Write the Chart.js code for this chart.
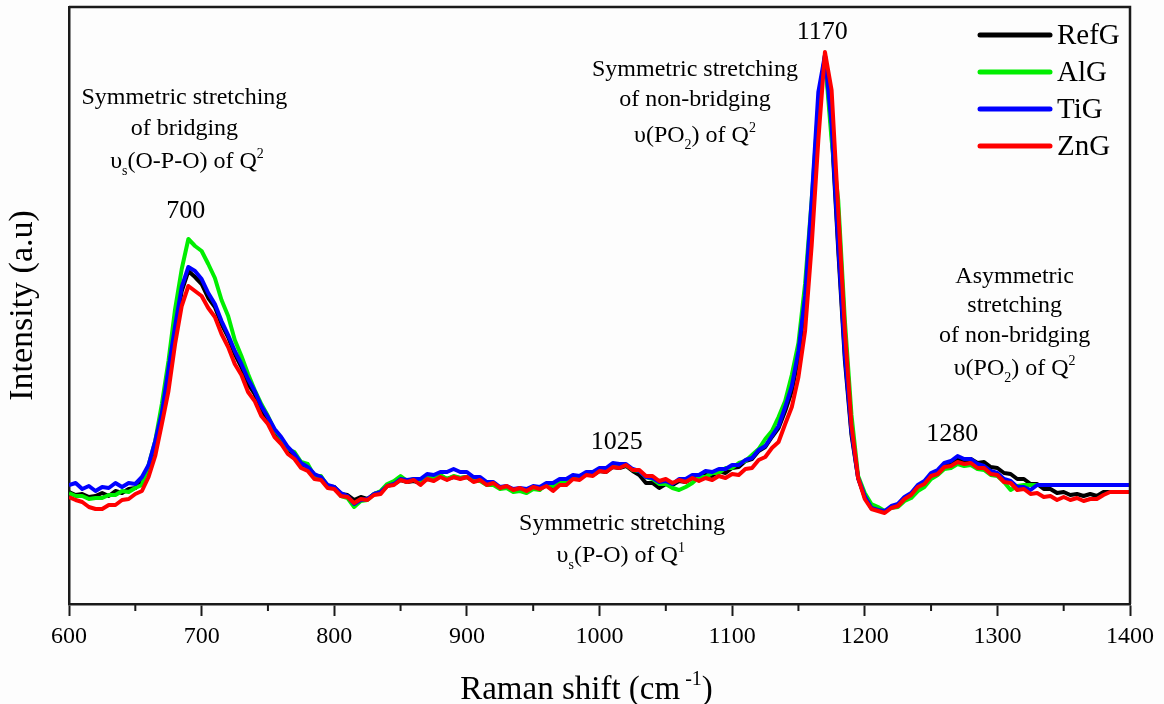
<!DOCTYPE html>
<html>
<head>
<meta charset="utf-8">
<script src="https://cdn.jsdelivr.net/npm/chart.js@4.4.1/dist/chart.umd.min.js"></script>
<style>
  html, body { margin: 0; padding: 0; background: #fff; }
  #myCanvas { display: block; }
</style>
</head>
<body>
<canvas id="myCanvas" width="1164" height="704"></canvas>
<script>
// Raman shift (cm-1), shared by every spectrum
const ramanShift = [
  600, 605, 610, 615, 620, 625, 630, 635, 640, 645, 650, 655, 660, 665, 670, 675, 680, 685, 690, 695,
  700, 705, 710, 715, 720, 725, 730, 735, 740, 745, 750, 755, 760, 765, 770, 775, 780, 785, 790, 795,
  800, 805, 810, 815, 820, 825, 830, 835, 840, 845, 850, 855, 860, 865, 870, 875, 880, 885, 890, 895,
  900, 905, 910, 915, 920, 925, 930, 935, 940, 945, 950, 955, 960, 965, 970, 975, 980, 985, 990, 995,
  1000, 1005, 1010, 1015, 1020, 1025, 1030, 1035, 1040, 1045, 1050, 1055, 1060, 1065, 1070, 1075, 1080, 1085, 1090, 1095,
  1100, 1105, 1110, 1115, 1120, 1125, 1130, 1135, 1140, 1145, 1150, 1155, 1160, 1165, 1170, 1175, 1180, 1185, 1190, 1195,
  1200, 1205, 1210, 1215, 1220, 1225, 1230, 1235, 1240, 1245, 1250, 1255, 1260, 1265, 1270, 1275, 1280, 1285, 1290, 1295,
  1300, 1305, 1310, 1315, 1320, 1325, 1330, 1335, 1340, 1345, 1350, 1355, 1360, 1365, 1370, 1375, 1380, 1385, 1390, 1395,
  1400
];

// intensities (a.u.)
const refG = [
  112, 109, 110, 107, 108, 111, 108, 113, 111, 115, 116, 123, 135, 160, 188, 230, 273, 313, 333, 327,
  320, 306, 297, 280, 267, 250, 237, 220, 210, 194, 185, 172, 165, 154, 149, 140, 137, 128, 126, 118,
  117, 110, 109, 104, 107, 105, 110, 112, 119, 120, 124, 122, 123, 121, 125, 124, 128, 125, 127, 126,
  127, 123, 124, 120, 121, 116, 117, 113, 115, 113, 117, 115, 119, 117, 122, 121, 126, 125, 130, 129,
  133, 132, 137, 136, 138, 133, 129, 121, 121, 116, 120, 119, 123, 122, 126, 125, 129, 128, 133, 131,
  136, 137, 143, 145, 153, 157, 167, 176, 193, 213, 247, 303, 394, 494, 549, 474, 354, 244, 169, 126,
  107, 96, 94, 92, 97, 99, 106, 110, 118, 122, 130, 133, 139, 140, 144, 143, 145, 141, 142, 137,
  136, 131, 130, 125, 125, 120, 120, 115, 115, 111, 112, 109, 110, 108, 110, 108, 112, 112, 112, 112,
  112
];
const alG = [
  111, 108, 108, 105, 106, 106, 109, 109, 113, 112, 116, 119, 139, 163, 200, 243, 295, 335, 365, 358,
  353, 340, 326, 304, 288, 264, 248, 230, 214, 200, 188, 174, 166, 155, 152, 142, 140, 128, 128, 118,
  116, 108, 106, 97, 103, 104, 110, 113, 120, 123, 128, 123, 125, 121, 127, 126, 129, 125, 128, 126,
  127, 123, 123, 119, 119, 115, 116, 112, 113, 111, 115, 114, 120, 118, 122, 122, 128, 128, 131, 131,
  135, 135, 139, 138, 139, 134, 133, 127, 125, 120, 120, 116, 114, 117, 121, 127, 127, 131, 131, 136,
  136, 141, 143, 149, 155, 165, 173, 187, 203, 229, 261, 320, 404, 499, 546, 464, 404, 284, 189, 128,
  111, 100, 97, 93, 96, 97, 103, 106, 113, 117, 125, 129, 135, 136, 140, 138, 139, 135, 134, 129,
  128, 122, 114, 118, 119, 119, 119, 119, 119, 119, 119, 119, 119, 119, 119, 119, 119, 119, 119, 119,
  119
];
const tiG = [
  119, 121, 115, 118, 113, 117, 116, 121, 117, 121, 120, 127, 139, 163, 191, 235, 278, 317, 337, 333,
  325, 311, 300, 283, 269, 253, 240, 225, 213, 198, 187, 175, 167, 157, 150, 141, 137, 130, 127, 119,
  117, 111, 108, 100, 104, 105, 110, 112, 118, 120, 125, 124, 125, 125, 130, 129, 132, 132, 135, 132,
  132, 127, 127, 122, 122, 117, 118, 115, 116, 115, 118, 117, 121, 121, 125, 125, 129, 128, 132, 132,
  136, 136, 141, 140, 140, 135, 133, 127, 126, 122, 123, 120, 125, 125, 129, 129, 133, 132, 135, 135,
  139, 139, 144, 146, 154, 158, 168, 178, 197, 218, 253, 308, 404, 512, 549, 479, 359, 249, 172, 126,
  108, 96, 94, 93, 98, 100, 107, 111, 119, 123, 131, 134, 141, 143, 148, 145, 145, 140, 138, 133,
  131, 125, 123, 117, 117, 114, 119, 119, 119, 119, 119, 119, 119, 119, 119, 119, 119, 119, 119, 119,
  119
];
const znG = [
  107, 104, 102, 97, 95, 95, 99, 99, 104, 105, 110, 113, 127, 148, 180, 213, 260, 298, 318, 313,
  308, 296, 287, 270, 257, 240, 229, 212, 203, 188, 180, 167, 160, 150, 145, 136, 133, 125, 124, 116,
  115, 108, 107, 101, 105, 104, 109, 110, 118, 119, 124, 122, 124, 119, 125, 123, 127, 124, 127, 125,
  127, 122, 124, 119, 121, 116, 118, 114, 116, 113, 117, 115, 118, 113, 119, 119, 125, 124, 129, 128,
  133, 132, 137, 136, 139, 134, 134, 128, 128, 123, 125, 121, 124, 122, 126, 123, 126, 124, 128, 126,
  130, 129, 135, 136, 144, 147, 156, 162, 180, 197, 227, 273, 359, 464, 552, 514, 394, 274, 179, 126,
  105, 95, 93, 91, 96, 98, 105, 109, 117, 120, 128, 130, 137, 138, 142, 140, 141, 136, 136, 130,
  129, 122, 121, 114, 115, 110, 111, 107, 108, 104, 107, 104, 106, 103, 105, 105, 109, 112, 112, 112,
  112
];

const seriesNames = ['RefG', 'AlG', 'TiG', 'ZnG'];
const seriesColors = ['#000000', '#00ee00', '#0000ff', '#ff0000'];
const seriesValues = [refG, alG, tiG, znG];

const xTicks = [600, 700, 800, 900, 1000, 1100, 1200, 1300, 1400];
const xMinorTicks = [650, 750, 850, 950, 1050, 1150, 1250, 1350];

const serif = "'Liberation Serif', 'Times New Roman', serif";

// band labels, placed in data units (cm-1, a.u.)
const annotations = [
  { x: 687, y: 500, size: 24, parts: [['Symmetric stretching', 'n']] },
  { x: 687, y: 469, size: 24, parts: [['of bridging', 'n']] },
  { x: 689, y: 436, size: 24, parts: [['\u03c5', 'n'], ['s', 'sub'], ['(O-P-O) of Q', 'n'], ['2', 'sup']] },
  { x: 688, y: 386, size: 26, parts: [['700', 'n']] },
  { x: 1168, y: 565, size: 26, parts: [['1170', 'n']] },
  { x: 1072, y: 528, size: 24, parts: [['Symmetric stretching', 'n']] },
  { x: 1072, y: 498, size: 24, parts: [['of non-bridging', 'n']] },
  { x: 1072, y: 462, size: 24, parts: [['\u03c5(PO', 'n'], ['2', 'sub'], [') of Q', 'n'], ['2', 'sup']] },
  { x: 1313, y: 321, size: 24, parts: [['Asymmetric', 'n']] },
  { x: 1313, y: 292, size: 24, parts: [['stretching', 'n']] },
  { x: 1313, y: 262, size: 24, parts: [['of non-bridging', 'n']] },
  { x: 1313, y: 229, size: 24, parts: [['\u03c5(PO', 'n'], ['2', 'sub'], [') of Q', 'n'], ['2', 'sup']] },
  { x: 1266, y: 163, size: 26, parts: [['1280', 'n']] },
  { x: 1013, y: 155, size: 26, parts: [['1025', 'n']] },
  { x: 1017, y: 74, size: 24, parts: [['Symmetric stretching', 'n']] },
  { x: 1016, y: 42, size: 24, parts: [['\u03c5', 'n'], ['s', 'sub'], ['(P-O) of Q', 'n'], ['1', 'sup']] }
];

function drawRich(ctx, parts, cx, baseline, size) {
  const small = Math.round(size * 0.6);
  const widths = parts.map(function(p) {
    ctx.font = (p[1] === 'n' ? size : small) + 'px ' + serif;
    return ctx.measureText(p[0]).width;
  });
  const total = widths.reduce(function(a, b) { return a + b; }, 0);
  let x = cx - total / 2;
  parts.forEach(function(p, i) {
    ctx.font = (p[1] === 'n' ? size : small) + 'px ' + serif;
    let dy = 0;
    if (p[1] === 'sub') dy = size * 0.3;
    if (p[1] === 'sup') dy = -size * 0.42;
    ctx.fillText(p[0], x, baseline + dy);
    x += widths[i];
  });
}

const decorations = {
  id: 'decorations',
  beforeDraw(chart) {
    const ctx = chart.ctx;
    ctx.save();
    ctx.fillStyle = '#fdfdfd';
    ctx.fillRect(0, 0, chart.width, chart.height);
    ctx.restore();
  },
  afterDraw(chart) {
    const ctx = chart.ctx;
    const area = chart.chartArea;
    const xs = chart.scales.x;
    const ys = chart.scales.y;
    ctx.save();

    // top and right of the frame
    ctx.strokeStyle = '#1a1a1a';
    ctx.lineWidth = 2.5;
    ctx.beginPath();
    ctx.moveTo(area.left, area.top);
    ctx.lineTo(area.right, area.top);
    ctx.lineTo(area.right, area.bottom);
    ctx.stroke();

    // minor ticks
    ctx.lineWidth = 2;
    ctx.beginPath();
    for (const v of xMinorTicks) {
      const px = xs.getPixelForValue(v);
      ctx.moveTo(px, area.bottom);
      ctx.lineTo(px, area.bottom + 7);
    }
    ctx.stroke();

    // band labels
    ctx.fillStyle = '#000';
    ctx.textBaseline = 'alphabetic';
    ctx.textAlign = 'left';
    for (const a of annotations) {
      drawRich(ctx, a.parts, xs.getPixelForValue(a.x), ys.getPixelForValue(a.y), a.size);
    }

    // x axis title with superscript
    drawRich(ctx, [['Raman shift (cm', 'n'], [' -1', 'sup'], [')', 'n']],
      (area.left + area.right) / 2 - 13, chart.height - 5, 33);

    // legend
    const lx = area.right - 150;
    let ly = area.top + 28;
    chart.data.datasets.forEach(function(ds) {
      ctx.strokeStyle = ds.borderColor;
      ctx.lineWidth = 5;
      ctx.lineCap = 'round';
      ctx.beginPath();
      ctx.moveTo(lx, ly);
      ctx.lineTo(lx + 70, ly);
      ctx.stroke();
      ctx.fillStyle = '#000';
      ctx.font = '29px ' + serif;
      ctx.textBaseline = 'middle';
      ctx.fillText(ds.label, lx + 77, ly + 1);
      ly += 37;
    });
    ctx.restore();
  }
};

const canvas = document.getElementById('myCanvas');
const ctx = canvas.getContext('2d');

const datasets = seriesNames.map(function(name, i) {
  return {
    label: name,
    data: ramanShift.map(function(x, j) { return { x: x, y: seriesValues[i][j] }; }),
    borderColor: seriesColors[i],
    backgroundColor: seriesColors[i],
    borderWidth: 4,
    pointRadius: 0,
    tension: 0,
    borderJoinStyle: 'round',
    fill: false,
    order: seriesNames.length - 1 - i
  };
});

const chart = new Chart(ctx, {
  type: 'line',
  data: { datasets: datasets },
  options: {
    responsive: false,
    animation: false,
    events: [],
    layout: { padding: { top: 7, right: 34, left: 0, bottom: 0 } },
    plugins: {
      legend: { display: false },
      tooltip: { enabled: false }
    },
    scales: {
      x: {
        type: 'linear',
        min: 600,
        max: 1400,
        afterBuildTicks: function(scale) {
          scale.ticks = xTicks.map(function(v) { return { value: v }; });
        },
        afterFit: function(scale) { scale.height = 100; },
        ticks: {
          color: '#000',
          padding: 6,
          maxRotation: 0,
          font: { family: serif, size: 24 },
          callback: function(value) { return String(value); }
        },
        grid: {
          display: true,
          drawOnChartArea: false,
          drawTicks: true,
          tickLength: 12,
          tickWidth: 2,
          tickColor: '#1a1a1a'
        },
        border: { display: true, width: 2.5, color: '#1a1a1a' }
      },
      y: {
        min: 0,
        max: 597,
        afterFit: function(scale) { scale.width = 69; },
        ticks: { display: false },
        grid: { display: false },
        border: { display: true, width: 2.5, color: '#1a1a1a' },
        title: {
          display: true,
          text: 'Intensity (a.u)',
          color: '#000',
          font: { family: serif, size: 34 },
          padding: { top: 3, bottom: 0 }
        }
      }
    }
  },
  plugins: [decorations]
});
</script>
</body>
</html>
